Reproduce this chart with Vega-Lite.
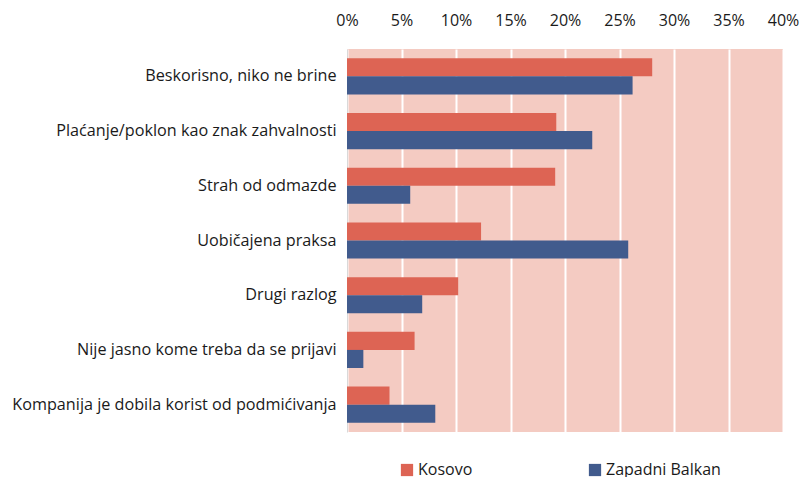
{
  "$schema": "https://vega.github.io/schema/vega-lite/v6.json",
  "width": 436,
  "height": 383,
  "autosize": {"type": "none"},
  "padding": {"left": 347, "top": 49, "right": 18, "bottom": 45},
  "background": "white",
  "config": {
    "view": {"fill": "#F4CBC2", "stroke": null},
    "font": "Open Sans",
    "text": {"font": "Open Sans"}
  },
  "data": {
    "values": [
      {"cat": "Beskorisno, niko ne brine", "series": "Kosovo", "value": 28.0},
      {"cat": "Beskorisno, niko ne brine", "series": "Zapadni Balkan", "value": 26.2},
      {"cat": "Plaćanje/poklon kao znak zahvalnosti", "series": "Kosovo", "value": 19.2},
      {"cat": "Plaćanje/poklon kao znak zahvalnosti", "series": "Zapadni Balkan", "value": 22.5},
      {"cat": "Strah od odmazde", "series": "Kosovo", "value": 19.1},
      {"cat": "Strah od odmazde", "series": "Zapadni Balkan", "value": 5.8},
      {"cat": "Uobičajena praksa", "series": "Kosovo", "value": 12.3},
      {"cat": "Uobičajena praksa", "series": "Zapadni Balkan", "value": 25.8},
      {"cat": "Drugi razlog", "series": "Kosovo", "value": 10.2},
      {"cat": "Drugi razlog", "series": "Zapadni Balkan", "value": 6.9},
      {"cat": "Nije jasno kome treba da se prijavi", "series": "Kosovo", "value": 6.2},
      {"cat": "Nije jasno kome treba da se prijavi", "series": "Zapadni Balkan", "value": 1.5},
      {"cat": "Kompanija je dobila korist od podmićivanja", "series": "Kosovo", "value": 3.9},
      {"cat": "Kompanija je dobila korist od podmićivanja", "series": "Zapadni Balkan", "value": 8.1}
    ]
  },
  "mark": {"type": "bar"},
  "encoding": {
    "y": {
      "field": "cat",
      "type": "nominal",
      "sort": null,
      "scale": {"paddingInner": 0.34, "paddingOuter": 0.17},
      "axis": {
        "title": null,
        "ticks": false,
        "domainColor": "#D9D9D9",
        "domainWidth": 1,
        "labelFontSize": 16.2,
        "labelColor": "#1a1a1a",
        "labelPadding": 11,
        "labelLimit": 400
      }
    },
    "yOffset": {"field": "series", "type": "nominal", "sort": ["Kosovo", "Zapadni Balkan"]},
    "x": {
      "field": "value",
      "type": "quantitative",
      "scale": {"domain": [0, 40], "nice": false},
      "axis": {
        "orient": "top",
        "title": null,
        "values": [0, 5, 10, 15, 20, 25, 30, 35, 40],
        "labelExpr": "datum.value + '%'",
        "domain": false,
        "ticks": false,
        "grid": true,
        "gridColor": "white",
        "gridWidth": 2,
        "gridOpacity": 1,
        "labelFontSize": 16,
        "labelColor": "#1a1a1a",
        "labelPadding": 21,
        "labelFlush": false
      }
    },
    "color": {
      "field": "series",
      "type": "nominal",
      "scale": {"domain": ["Kosovo", "Zapadni Balkan"], "range": ["#DD6454", "#415B8D"]},
      "legend": {
        "title": null,
        "orient": "none",
        "direction": "horizontal",
        "legendX": 52,
        "legendY": 413,
        "symbolType": "square",
        "symbolSize": 150,
        "symbolStrokeWidth": 0,
        "symbolOpacity": 1,
        "labelFontSize": 16,
        "labelColor": "#1a1a1a",
        "labelOffset": 3,
        "columnPadding": 114
      }
    }
  }
}
